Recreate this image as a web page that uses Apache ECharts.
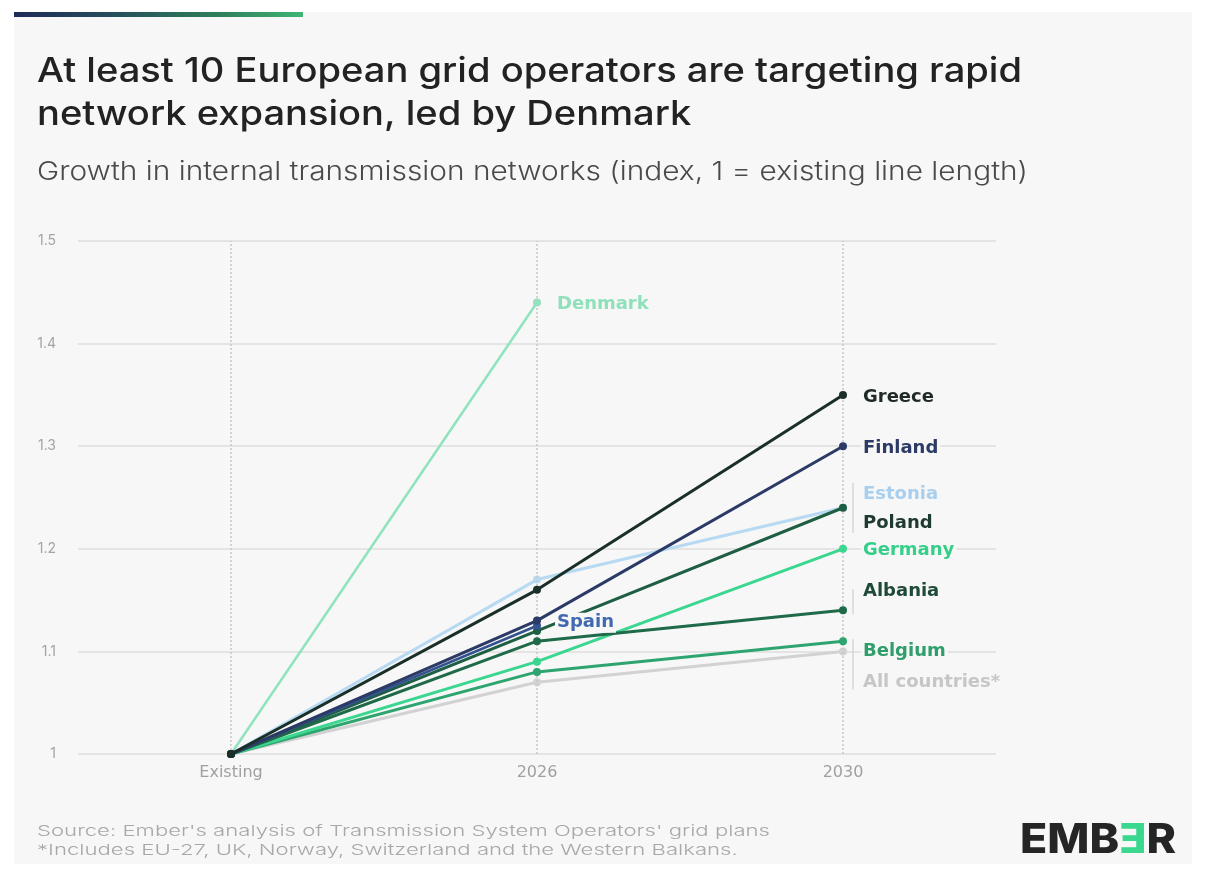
<!DOCTYPE html>
<html><head><meta charset="utf-8">
<script src="https://cdn.jsdelivr.net/npm/echarts@6/dist/echarts.min.js"></script>
<style>html,body{margin:0;padding:0;background:#ffffff;}#c{width:1206px;height:873px;}</style>
</head><body><div id="c"></div>
<script>
const categories = ['Existing', '2026', '2030'];
const yTicks = [1, 1.1, 1.2, 1.3, 1.4, 1.5];

const allCountries = [1, 1.07, 1.10];
const estonia = [1, 1.17, 1.24];
const denmark = [1, 1.44, null];
const belgium = [1, 1.08, 1.11];
const germany = [1, 1.09, 1.20];
const albania = [1, 1.11, 1.14];
const poland = [1, 1.12, 1.24];
const spain = [1, 1.125, null];
const finland = [1, 1.13, 1.30];
const greece = [1, 1.16, 1.35];

const seriesDefs = [
  {name: 'All countries*', data: allCountries, color: '#d2d2d2', labelColor: '#c6c6c6', dy: 31, w: 3},
  {name: 'Estonia', data: estonia, color: '#b7daf2', labelColor: '#a9cfee', dy: -13, w: 3},
  {name: 'Denmark', data: denmark, color: '#8fe3bd', labelColor: '#8fe0bb', dy: 2, w: 2.5},
  {name: 'Belgium', data: belgium, color: '#2ea56f', labelColor: '#2e9e6a', dy: 10, w: 3},
  {name: 'Germany', data: germany, color: '#3bd690', labelColor: '#35cf8a', dy: 2, w: 3},
  {name: 'Albania', data: albania, color: '#1f6a48', labelColor: '#1f4a38', dy: -19, w: 3},
  {name: 'Poland', data: poland, color: '#1e5e43', labelColor: '#1f3a30', dy: 16, w: 3},
  {name: 'Spain', data: spain, color: '#34528f', labelColor: '#4169b0', dy: -3, w: 2.5},
  {name: 'Finland', data: finland, color: '#2c3a66', labelColor: '#2c3a66', dy: 2, w: 3},
  {name: 'Greece', data: greece, color: '#1a2f28', labelColor: '#1f2a26', dy: 2, w: 3}
];

const font = 'Inter, "Open Sans", sans-serif';
const labelFont = '"DejaVu Sans", sans-serif';

const series = seriesDefs.map((s, si) => {
  let last = -1;
  s.data.forEach((v, i) => { if (v !== null) last = i; });
  return {
    name: s.name,
    type: 'line',
    z: 2 + si,
    data: s.data.map((v, i) => {
      if (v === null) return null;
      const item = {value: v};
      if (i === last) {
        item.label = {
          show: true, position: 'right', distance: 14, offset: [0, s.dy],
          formatter: s.name, color: s.labelColor, fontSize: 18, fontWeight: 'bold',
          fontFamily: labelFont, backgroundColor: '#f7f7f7', padding: [1, 2]
        };
      }
      return item;
    }),
    symbol: 'circle', symbolSize: 8, showSymbol: true,
    lineStyle: {color: s.color, width: s.w},
    itemStyle: {color: s.color},
    label: {show: false},
    animation: false,
    silent: true
  };
});

series.push({
  type: 'line', data: [], silent: true, animation: false,
  markLine: {
    silent: true, symbol: 'none', label: {show: false},
    lineStyle: {color: '#c8c8c8', type: [2, 2], width: 1.5},
    data: categories.map(c => ({xAxis: c}))
  }
});

const chart = echarts.init(document.getElementById('c'), null, {renderer: 'canvas'});
chart.setOption({
  backgroundColor: '#ffffff',
  animation: false,
  grid: {left: 78, right: 210, top: 241, bottom: 119},
  xAxis: {
    type: 'category', data: categories, boundaryGap: true,
    axisLine: {show: false}, axisTick: {show: false},
    axisLabel: {color: '#a0a0a0', fontSize: 16, fontFamily: labelFont, margin: 11},
    splitLine: {show: false}
  },
  yAxis: {
    type: 'value', min: 1, max: 1.5, interval: 0.1,
    axisLine: {show: false}, axisTick: {show: false},
    axisLabel: {color: '#a4a4a4', fontSize: 14, fontFamily: font, margin: 22,
      formatter: v => { const t = yTicks.find(x => Math.abs(x - v) < 1e-6); return t === undefined ? '' : String(t); }},
    splitLine: {lineStyle: {color: '#dedede', width: 1.5}}
  },
  series: series
});

// text measurement for fitting the wide reference typeface
const mctx = document.createElement('canvas').getContext('2d');
function measure(f, t) { mctx.font = f; return mctx.measureText(t).width; }
function fitText(text, fontStr, x, y, targetW, fill, lineHeight) {
  const first = text.split('\n')[0];
  const sx = targetW / measure(fontStr, first);
  return {type: 'text', x: x, y: y, scaleX: sx, scaleY: 1, z: 20,
    style: {text: text, x: 0, y: 0, font: fontStr, fill: fill, lineHeight: lineHeight, verticalAlign: 'top'}};
}

const titleFont = '500 34px ' + font;
const subFont = '300 26px ' + font;
const footFont = '300 15px ' + font;
const logoFont = '800 41px ' + font;

// brackets next to grouped labels (derived from series values)
const x2030 = chart.convertToPixel({gridIndex: 0}, ['2030', 1])[0];
function py(v) { return chart.convertToPixel({gridIndex: 0}, ['2030', v])[1]; }
const bx = x2030 + 10;
const bracketLines = [
  [py(estonia[2]) - 25, py(poland[2]) + 25],
  [py(albania[2]) - 21, py(albania[2]) + 4],
  [py(belgium[2]) - 2, py(allCountries[2]) + 38]
].map(([a, b]) => ({type: 'line', z: 1, shape: {x1: bx, y1: a, x2: bx, y2: b},
  style: {stroke: '#cfcfcf', lineWidth: 1.2}}));

const logoSx = 156 / measure(logoFont, 'EMBƎR');

chart.setOption({
  graphic: [
    {type: 'rect', z: -10, shape: {x: 14, y: 12, width: 1178, height: 852}, style: {fill: '#f7f7f7'}},
    {type: 'rect', z: 10, shape: {x: 14, y: 12, width: 289, height: 5},
      style: {fill: new echarts.graphic.LinearGradient(0, 0, 1, 0, [
        {offset: 0, color: '#1f2a5c'}, {offset: 0.35, color: '#25505a'}, {offset: 0.7, color: '#2f7d5a'}, {offset: 1, color: '#3fb574'}])}},
    fitText('At least 10 European grid operators are targeting rapid\nnetwork expansion, led by Denmark',
      titleFont, 37, 50, 985, '#222222', 43),
    fitText('Growth in internal transmission networks (index, 1 = existing line length)',
      subFont, 37, 157, 991, '#4a4a4a', 30),
    fitText("Source: Ember's analysis of Transmission System Operators' grid plans\n*Includes EU-27, UK, Norway, Switzerland and the Western Balkans.",
      footFont, 37, 822, 733, '#a8a8a8', 19),
    {type: 'text', x: 1020, y: 820, scaleX: logoSx, z: 20, style: {
      text: '{a|EMB}{b|Ǝ}{a|R}', x: 0, y: 0, verticalAlign: 'top',
      rich: {a: {fill: '#252525', font: logoFont}, b: {fill: '#3ad88f', font: logoFont}}}}
  ].concat(bracketLines)
});
</script></body></html>
